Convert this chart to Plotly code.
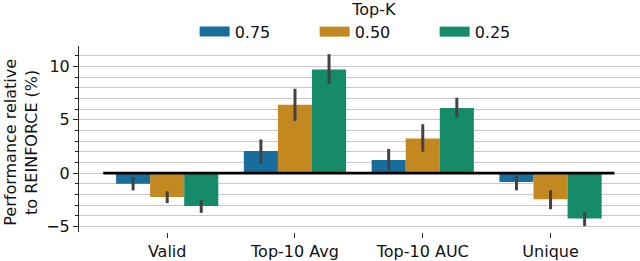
import plotly.graph_objects as go

categories = ["Valid", "Top-10 Avg", "Top-10 AUC", "Unique"]
series_names = ["0.75", "0.50", "0.25"]
colors = ["#176d9c", "#c38820", "#168b6a"]

k075 = [-0.98, 2.08, 1.24, -0.83]
lo075 = [-1.60, 0.87, 0.25, -1.60]
hi075 = [-0.37, 3.16, 2.27, -0.21]

k050 = [-2.23, 6.41, 3.25, -2.44]
lo050 = [-2.80, 4.90, 2.01, -3.37]
hi050 = [-1.70, 7.90, 4.59, -1.60]

k025 = [-3.06, 9.69, 6.10, -4.24]
lo025 = [-3.71, 8.36, 5.20, -4.95]
hi025 = [-2.53, 11.14, 7.06, -3.65]

y_ticks = [-5, 0, 5, 10]

values = [k075, k050, k025]
lows = [lo075, lo050, lo025]
highs = [hi075, hi050, hi025]

FONT = "DejaVu Sans"
FS = 16

fig = go.Figure()
xs = list(range(len(categories)))
for name, col, v, lo, hi in zip(series_names, colors, values, lows, highs):
    fig.add_trace(go.Bar(
        x=xs, y=v, name=name, marker=dict(color=col, line=dict(width=0)),
        showlegend=False,
        error_y=dict(type="data", symmetric=False,
                     array=[h - a for h, a in zip(hi, v)],
                     arrayminus=[a - l for l, a in zip(lo, v)],
                     color="#424242", thickness=3, width=0),
    ))
for name, col in zip(series_names, colors):
    fig.add_trace(go.Scatter(x=[None], y=[None], mode="lines", name=name,
                             line=dict(color=col, width=11)))

fig.add_shape(type="line", xref="x", yref="y", x0=-0.5, x1=3.5, y0=0, y1=0,
              line=dict(color="black", width=2.7), layer="above")

fig.update_layout(
    width=640, height=261,
    margin=dict(l=79, r=0, t=46, b=29, pad=0, autoexpand=False),
    paper_bgcolor="white", plot_bgcolor="white",
    font=dict(family=FONT, size=FS, color="#111111"),
    barmode="group", bargap=0.2, bargroupgap=0,
    legend=dict(orientation="h", x=0.527, xanchor="center", y=1.28, yanchor="top",
                title=dict(text="Top-K", side="top center", font=dict(size=FS)),
                font=dict(size=FS), entrywidth=75, tracegroupgap=0,
                bgcolor="rgba(0,0,0,0)"),
    xaxis=dict(range=[-0.69, 3.7], tickmode="array", tickvals=xs, ticktext=categories,
               showgrid=False, showline=False, zeroline=False,
               ticks="outside", ticklen=5, tickwidth=1, tickcolor="#262626"),
    yaxis=dict(range=[-5.5, 11.9], tickmode="array", tickvals=y_ticks,
               ticktext=["\u22125", "0", "5", "10"],
               showgrid=True, gridcolor="#c8c8c8", gridwidth=1.3,
               zeroline=False, showline=True, linecolor="#262626", linewidth=1,
               ticks="outside", ticklen=5, tickwidth=1, tickcolor="#262626",
               minor=dict(dtick=1, tick0=0, showgrid=True, gridcolor="#c8c8c8",
                          gridwidth=1.3, ticks="outside", ticklen=3,
                          tickcolor="#262626")),
)

fig.add_annotation(text="Performance relative<br>to REINFORCE (%)",
                   xref="paper", yref="paper", x=(21 - 79) / 561, y=0.48,
                   xanchor="center", yanchor="middle", textangle=-90,
                   showarrow=False, font=dict(size=FS))

fig.write_html("out.html", config={"displayModeBar": False},
               post_script="document.body.style.margin='0';document.body.style.overflow='hidden';")
